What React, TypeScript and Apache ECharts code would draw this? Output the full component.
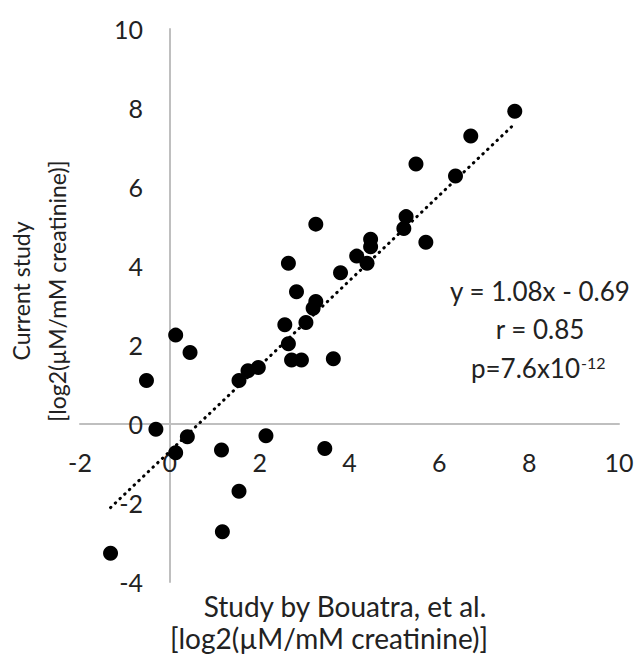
import React, { useEffect, useRef } from "react";
import * as echarts from "echarts";

// Study by Bouatra, et al. (x) vs current study (y), log2(uM/mM creatinine)
const bouatraValues = [
  0.13, 0.45, -0.52, -0.31, 0.39, 0.13, 1.15, 2.14, 1.54, 1.17, -1.32, 1.54, 1.74, 1.97,
  3.25, 2.64, 2.82, 3.25, 3.19, 3.03, 2.56, 2.64, 2.71, 2.93, 3.64, 3.8, 4.16, 4.39,
  4.47, 4.47, 5.26, 5.21, 7.68, 6.7, 5.48, 6.36, 5.7, 3.45,
];
const currentValues = [
  2.25, 1.81, 1.1, -0.13, -0.32, -0.73, -0.66, -0.3, -1.7, -2.73, -3.27, 1.1, 1.35, 1.43,
  5.06, 4.07, 3.35, 3.1, 2.93, 2.57, 2.51, 2.03, 1.62, 1.62, 1.65, 3.83, 4.25, 4.07,
  4.68, 4.49, 5.25, 4.95, 7.92, 7.29, 6.58, 6.28, 4.6, -0.62,
];
const fitSlope = 1.08;
const fitIntercept = -0.69;
const xTitleLines = ["Study by Bouatra, et al.", "[log2(\u00b5M/mM creatinine)]"];
const yTitleLines = ["Current study", "[log2(\u00b5M/mM creatinine)]"];
const statLines = ["y = 1.08x - 0.69", "r = 0.85"];
const pText = "p=7.6x10";
const pExp = "-12";

const FONT = "Lato";
const TXT = "#222222";

export default function App() {
  const ref = useRef<HTMLDivElement>(null);
  useEffect(() => {
    if (!ref.current) return;
    const chart = echarts.init(ref.current, null, { renderer: "svg" });
    const points = bouatraValues.map((x, i) => [x, currentValues[i]]);
    const xMin = Math.min(...bouatraValues);
    const xMax = Math.max(...bouatraValues);
    const fit = [
      [xMin, fitSlope * xMin + fitIntercept],
      [xMax, fitSlope * xMax + fitIntercept],
    ];
    chart.setOption({
      animation: false,
      backgroundColor: "#ffffff",
      grid: { left: 80, right: 20, top: 29, bottom: 74 },
      xAxis: {
        type: "value",
        min: -2,
        max: 10,
        interval: 2,
        axisLine: { onZero: true, lineStyle: { color: "#bfbfbf", width: 2 } },
        axisTick: { show: false },
        splitLine: { show: false },
        axisLabel: { margin: -133, color: TXT, fontSize: 25, fontFamily: FONT },
      },
      yAxis: {
        type: "value",
        min: -4,
        max: 10,
        interval: 2,
        axisLine: { show: true, onZero: true, lineStyle: { color: "#bfbfbf", width: 2 } },
        axisTick: { show: false },
        splitLine: { show: false },
        axisLabel: { margin: -63, color: TXT, fontSize: 25, fontFamily: FONT },
      },
      series: [
        {
          type: "line",
          data: fit,
          symbol: "none",
          lineStyle: { color: "#000", width: 3, type: [0.5, 6], cap: "round" },
          z: 1,
        },
        {
          type: "scatter",
          data: points,
          symbol: "circle",
          symbolSize: 15,
          itemStyle: { color: "#000", opacity: 1 },
          z: 2,
        },
      ],
      graphic: [
        {
          type: "text",
          x: 345,
          y: 606,
          style: { text: xTitleLines[0], fill: TXT, font: `28px ${FONT}`, textAlign: "center", textVerticalAlign: "middle" },
        },
        {
          type: "text",
          x: 329,
          y: 638,
          style: { text: xTitleLines[1], fill: TXT, font: `28px ${FONT}`, textAlign: "center", textVerticalAlign: "middle" },
        },
        ...yTitleLines.map((t, i) => ({
          type: "text",
          x: 21 + i * 36,
          y: 291,
          rotation: Math.PI / 2,
          style: { text: t, fill: TXT, font: `23px ${FONT}`, textAlign: "center", textVerticalAlign: "middle" },
        })),
        ...statLines.map((t, i) => ({
          type: "text",
          x: 540,
          y: 291 + i * 38,
          style: { text: t, fill: TXT, font: `26px ${FONT}`, textAlign: "center", textVerticalAlign: "middle" },
        })),
        {
          type: "text",
          x: 580,
          y: 368,
          style: { text: pText, fill: TXT, font: `26px ${FONT}`, textAlign: "right", textVerticalAlign: "middle" },
        },
        {
          type: "text",
          x: 581,
          y: 362,
          style: { text: pExp, fill: TXT, font: `16px ${FONT}`, textAlign: "left", textVerticalAlign: "middle" },
        },
      ],
    });
    return () => chart.dispose();
  }, []);
  return (
    <div
      ref={ref}
      style={{ position: "fixed", left: 0, top: 0, width: 639, height: 656 }}
    />
  );
}
